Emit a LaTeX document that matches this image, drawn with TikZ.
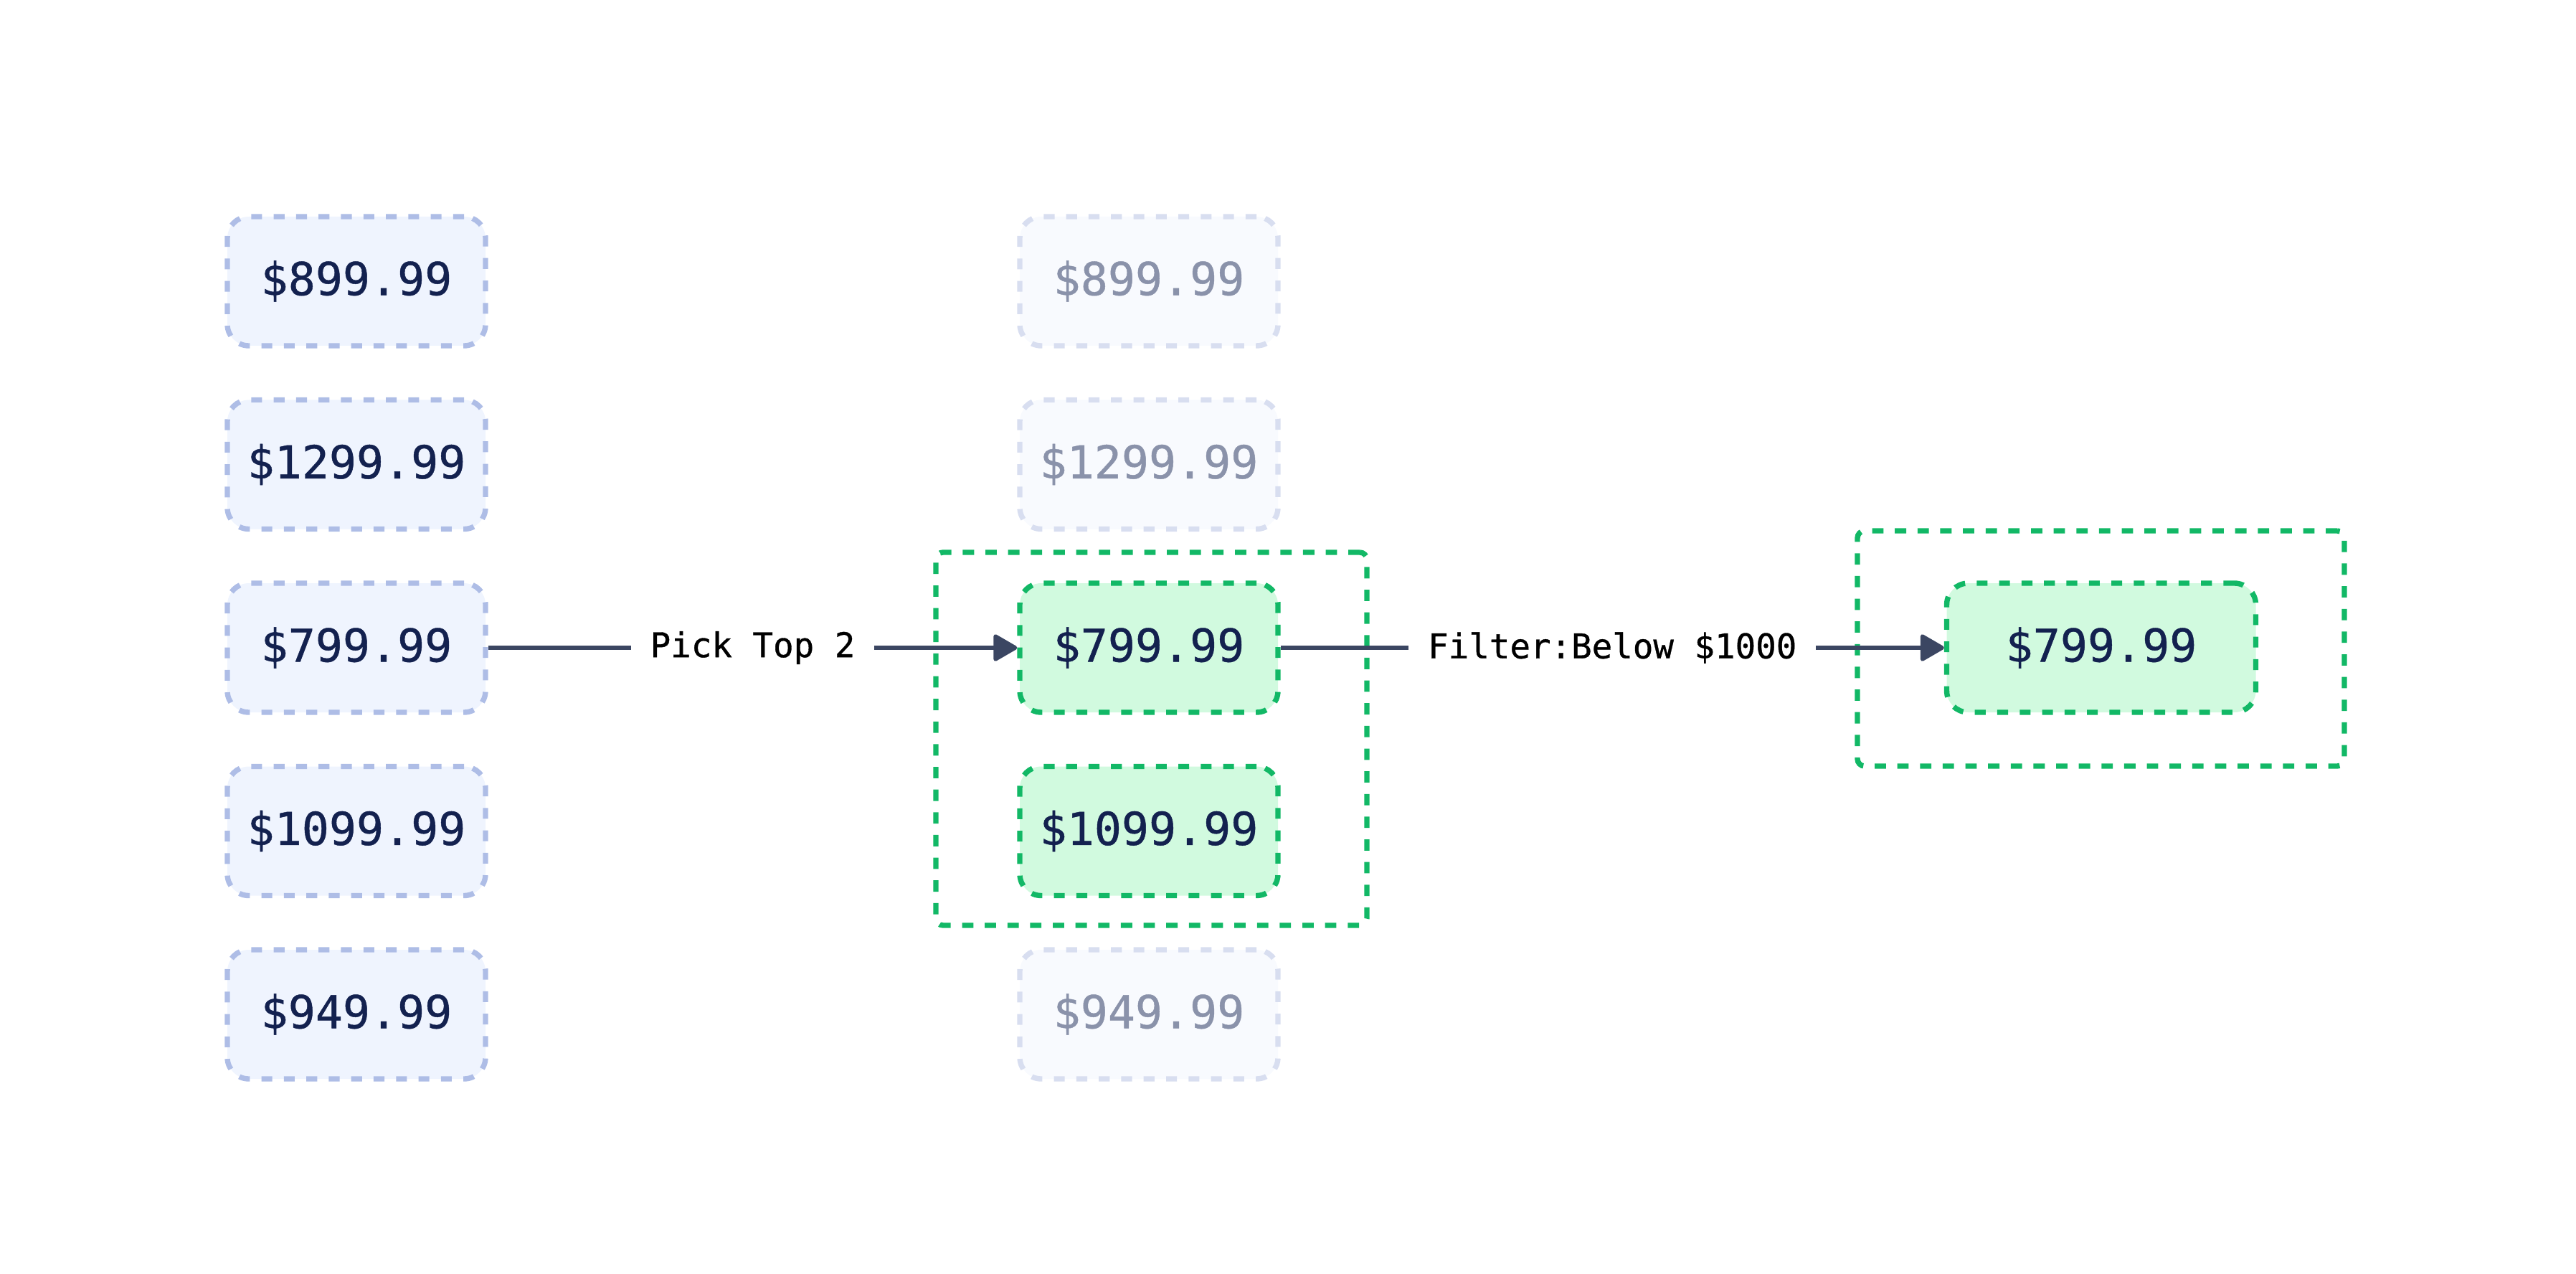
\documentclass[tikz,border=0pt]{standalone}
\usepackage{fontspec}
\setmonofont{DejaVu Sans Mono}
\newfontfamily\pricefont{DejaVu Sans Mono}[BoldFont={DejaVu Sans Mono},BoldFeatures={FakeBold=0.7}]
\usetikzlibrary{arrows.meta}
\definecolor{pricetext}{HTML}{13214F}
\definecolor{boxline}{HTML}{AEBDE6}
\definecolor{boxfill}{HTML}{EFF4FE}
\definecolor{fadeline}{HTML}{D8DEF0}
\definecolor{fadefill}{HTML}{F8FAFE}
\definecolor{fadetext}{HTML}{8A92AA}
\definecolor{pickline}{HTML}{12B866}
\definecolor{pickfill}{HTML}{D1FADF}
\definecolor{arrowline}{HTML}{3B4662}
\begin{document}
\begin{tikzpicture}
[pricebox/.style={shape=rectangle,rounded corners=0.3cm,draw=boxline,fill=boxfill,%
   line width=2.1pt,dash pattern=on 4.3pt off 4.6pt,minimum width=3.6cm,minimum height=1.8cm,%
   text=pricetext,font=\pricefont\bfseries\fontsize{18}{20}\selectfont},
  fadedbox/.style={pricebox,draw=fadeline,fill=fadefill,text=fadetext},
  pickedbox/.style={pricebox,draw=pickline,fill=pickfill},
  groupbox/.style={shape=rectangle,rounded corners=0.1cm,draw=pickline,line width=2.1pt,%
   dash pattern=on 4.5pt off 4.5pt,inner sep=0pt},
  linedecorate/.style={-{Triangle[length=0.36cm,width=0.4cm,round]},line width=1.6pt,draw=arrowline},
  steplabel/.style={fill=white,inner xsep=0.27cm,text=black,font=\pricefont\bfseries\fontsize{13.5}{15}\selectfont}]
\useasboundingbox (0,0) rectangle (35.92,-17.76);
%% selection frames
\node (gmid) at (16.055,-10.30) [groupbox,minimum width=6.01cm,minimum height=5.20cm] {};
\node (gright) at (29.295,-9.04) [groupbox,minimum width=6.79cm,minimum height=3.28cm] {};
%% prices
\foreach \i/\y/\price/\look in {1/-3.92/899.99/fadedbox, 2/-6.475/1299.99/fadedbox,
  3/-9.03/799.99/pickedbox, 4/-11.585/1099.99/pickedbox, 5/-14.14/949.99/fadedbox} {
  \node (l\i) at (4.97,\y) [pricebox] {\$\price};
  \node (m\i) at (16.02,\y) [\look] {\$\price};
}
\node (r) at (29.30,-9.03) [pickedbox,minimum width=4.31cm] {\$799.99};
%% steps
\draw[linedecorate] (l3) -- node[steplabel] {Pick Top 2} (m3);
\draw[linedecorate] (m3) -- node[steplabel] {Filter:Below \$1000} (r);
\end{tikzpicture}
\end{document}
